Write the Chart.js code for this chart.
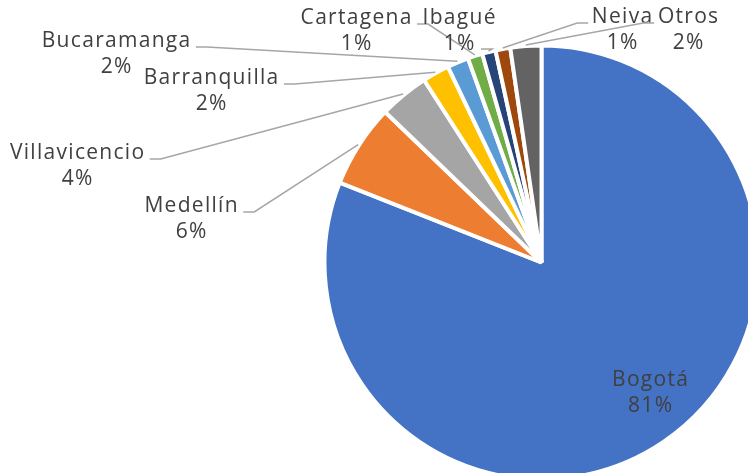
<!DOCTYPE html>
<html>
<head>
<meta charset="utf-8">
<script src="https://cdn.jsdelivr.net/npm/chart.js@4.4.1/dist/chart.umd.min.js"></script>
<style>
html, body { margin: 0; padding: 0; background: #fff; overflow: hidden; }
</style>
</head>
<body>
<canvas id="pieChart" width="748" height="473"></canvas>
<script>
// data
const cities = ["Bogotá", "Medellín", "Villavicencio", "Barranquilla", "Bucaramanga", "Cartagena", "Ibagué", "Neiva", "Otros"];
const shares = [81.0, 6.2, 3.7, 2.0, 1.6, 1.1, 1.0, 1.1, 2.3];
const sliceColors = ["#4472C4", "#ED7D31", "#A5A5A5", "#FFC000", "#5B9BD5", "#70AD47", "#264478", "#9E480E", "#636363"];

// where each label sits: centre x, baseline y, side the leader line leaves from
const labelPos = [
  [650, 386, null],
  [191, 212, "r"],
  [77, 159, "r"],
  [211, 84, "r"],
  [116, 47, "r"],
  [356, 24, "r"],
  [459, 24, "p"],
  [622, 23, "l"],
  [688, 23, "l"]
];

const labelFont = "21px 'Open Sans'";

// labels + leader lines
const leaderLabels = {
  id: "leaderLabels",
  afterDatasetsDraw(chart) {
    const ctx = chart.ctx;
    const meta = chart.getDatasetMeta(0);
    const total = shares.reduce((a, b) => a + b, 0);
    ctx.save();
    ctx.font = labelFont;
    ctx.letterSpacing = "1.3px";
    ctx.fillStyle = "#404040";
    ctx.strokeStyle = "#A6A6A6";
    ctx.lineWidth = 1.5;
    ctx.textAlign = "center";
    ctx.textBaseline = "alphabetic";
    meta.data.forEach((arc, i) => {
      const p = arc.getProps(["x", "y", "startAngle", "endAngle", "outerRadius"], true);
      const mid = (p.startAngle + p.endAngle) / 2;
      const [lx, ly, side] = labelPos[i];
      const name = cities[i];
      const pct = Math.round(shares[i] / total * 100) + "%";
      ctx.fillText(name, lx + 0.65, ly);
      ctx.fillText(pct, lx + 0.65, ly + 26);
      if (!side) return;
      const r = p.outerRadius + 1;
      const ex = p.x + Math.cos(mid) * r;
      const ey = p.y + Math.sin(mid) * r;
      let sx, sy = ly;
      if (side === "r") sx = lx + ctx.measureText(name).width / 2 + 5;
      else if (side === "l") sx = lx - ctx.measureText(name).width / 2 - 3;
      else { sx = lx + ctx.measureText(pct).width / 2 + 6; sy = ly + 25; }
      const dir = side === "l" ? -1 : 1;
      ctx.beginPath();
      ctx.moveTo(sx, sy);
      ctx.lineTo(sx + dir * 11, sy);
      ctx.lineTo(ex, ey);
      ctx.stroke();
    });
    ctx.restore();
  }
};

new Chart(document.getElementById("pieChart"), {
  type: "pie",
  data: {
    labels: cities,
    datasets: [{
      data: shares,
      backgroundColor: sliceColors,
      borderColor: "#ffffff",
      borderWidth: 4,
      clip: false
    }]
  },
  options: {
    responsive: false,
    devicePixelRatio: 1,
    animation: false,
    radius: 217,
    layout: { padding: { left: 335, top: 52, right: 0, bottom: 0 } },
    plugins: {
      legend: { display: false },
      tooltip: { enabled: false }
    }
  },
  plugins: [leaderLabels]
});
</script>
</body>
</html>
